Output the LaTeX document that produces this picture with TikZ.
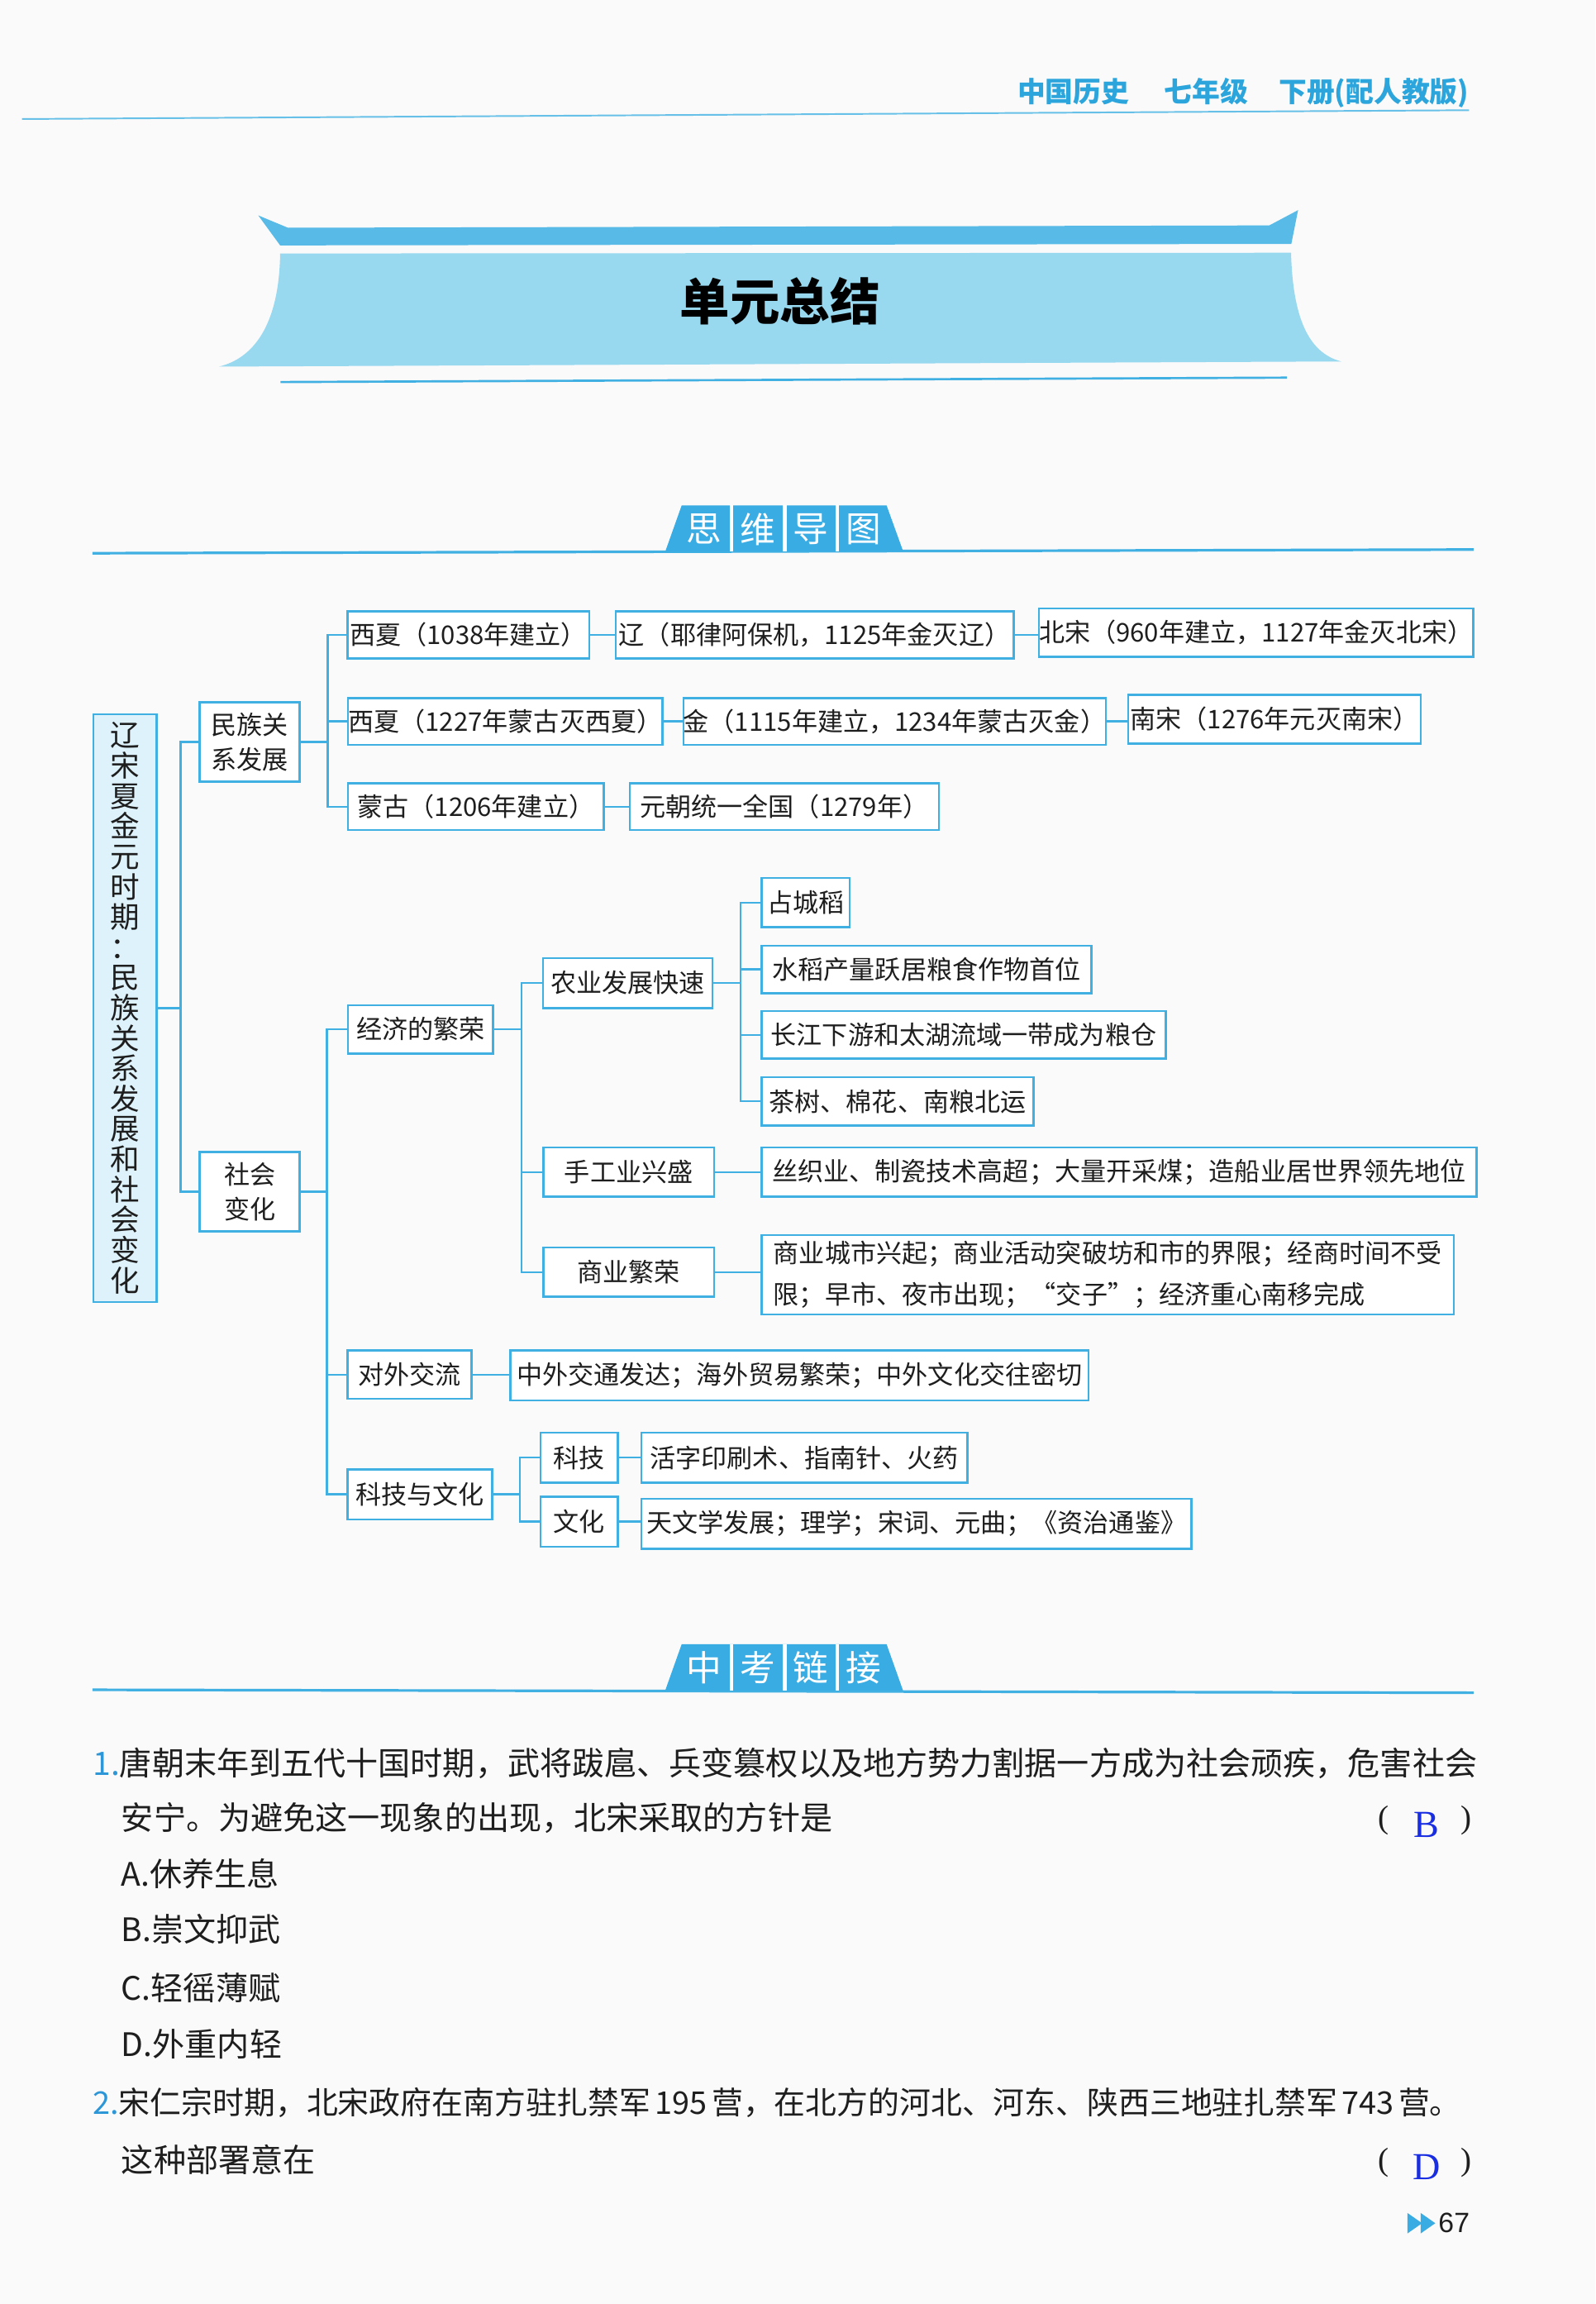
\documentclass[tikz,border=0pt]{standalone}
\usepackage{fontspec}
\setmainfont{Noto Sans CJK SC}
\newfontfamily\lat{Liberation Serif}
\newfontfamily\arl{Liberation Sans}
\definecolor{lineblue}{RGB}{64,176,226}
\definecolor{tabblue}{RGB}{58,172,228}
\definecolor{stripe}{RGB}{88,186,230}
\definecolor{roof}{RGB}{152,217,240}
\definecolor{headc}{RGB}{43,165,220}
\definecolor{rootfill}{RGB}{221,242,250}
\definecolor{ink}{RGB}{30,30,30}
\definecolor{ansblue}{RGB}{25,45,225}
\definecolor{numblue}{RGB}{45,150,215}
\definecolor{pagebg}{RGB}{250,250,250}
\tikzset{
  bx/.style={draw=lineblue, line width=1.4pt, fill=white, inner sep=0pt, text=ink,
    font=\fontsize{17.5}{21}\selectfont},
  cell/.style n args={4}{at={({(#1+#3)/2},{(#2+#4)/2})},
    minimum width={(#3)-(#1)}, minimum height={(#4)-(#2)}},
  conn/.style={draw=lineblue, line width=1.4pt},
  tabtxt/.style={text=white, font=\fontsize{24}{24}\selectfont, inner sep=0pt},
  qtext/.style={anchor=west, inner sep=0pt, text=ink, font=\fontsize{22}{26}\selectfont},
  paren/.style={inner sep=0pt, text=ink, font=\lat\fontsize{22}{22}\selectfont},
  ans/.style={inner sep=0pt, text=ansblue, font=\lat\fontsize{26}{26}\selectfont},
}
\begin{document}
\begin{tikzpicture}[x=1pt,y=-1pt]
\useasboundingbox (0,0) rectangle (1086,1568);
\fill[pagebg] (0,0) rectangle (1086,1568);

% page header
\node[anchor=east, inner sep=0pt, text=headc, font=\bfseries\fontsize{19}{19}\selectfont] (hdr) at (1000,63) {中国历史\hspace{24pt}七年级\hspace{21pt}下册(配人教版)};
\draw[lineblue!80, line width=1.1pt] (15,81) -- (1000,75);

% banner
\fill[stripe] (175.8,146.6) -- (196,155) -- (864,153.4) -- (883.6,143) -- (879,166) -- (190.7,167) -- cycle;
\fill[roof] (190.7,172.5) -- (878.8,172) .. controls (880,215) and (890,240) .. (913,246)
  -- (149,249.5) .. controls (172,244) and (190,222) .. (190.7,172.5) -- cycle;
\node[inner sep=0pt, text=black, font=\bfseries\fontsize{34}{34}\selectfont] (title) at (531,205) {单元总结};
\draw[lineblue, line width=1.5pt] (191,260) -- (876,257);

% tab 1
\draw[lineblue, line width=1.8pt] (63,376.5) -- (1003,374);
\fill[tabblue] (452.8,375.5) -- (464,344) -- (603.5,344) -- (614.7,375) -- cycle;
\foreach \xx in {497.8,534.3,569.8} \draw[white, line width=2.5pt] (\xx,344) -- (\xx,375);
\node[tabtxt] (t1a) at (479,360) {思};
\node[tabtxt] (t1b) at (516,360) {维};
\node[tabtxt] (t1c) at (552,360) {导};
\node[tabtxt] (t1d) at (588,360) {图};

% ---------------- mind map ----------------
\node[bx, fill=rootfill, cell={63.5}{486}{106.5}{886}, align=center,
  font=\fontsize{20}{20.6}\selectfont] (root)
  {辽\\宋\\夏\\金\\元\\时\\期\\：\\民\\族\\关\\系\\发\\展\\和\\社\\会\\变\\化};

\node[bx, cell={136}{478}{204}{532}, align=center, font=\fontsize{17.5}{24}\selectfont] (mz) {民族关\\系发展};
\node[bx, cell={136}{784}{204}{838}, align=center, font=\fontsize{17.5}{24}\selectfont] (sh) {社会\\变化};

\node[bx, cell={236.5}{416}{401}{448}] (a1) {西夏（1038年建立）};
\node[bx, cell={419}{416}{690}{448}] (a1b) {辽（耶律阿保机，1125年金灭辽）};
\node[bx, cell={708}{414}{1002}{447}] (a1c) {北宋（960年建立，1127年金灭北宋）};
\node[bx, cell={237}{475}{451}{507}] (a2) {西夏（1227年蒙古灭西夏）};
\node[bx, cell={468}{475}{750}{507}] (a2b) {金（1115年建立，1234年蒙古灭金）};
\node[bx, cell={768}{473}{967}{506}] (a2c) {南宋（1276年元灭南宋）};
\node[bx, cell={237}{533}{411}{565}] (a3) {蒙古（1206年建立）};
\node[bx, cell={428.6}{533}{639}{565}] (a3b) {元朝统一全国（1279年）};

\node[bx, cell={237}{684}{335.5}{717}] (b1) {经济的繁荣};
\node[bx, cell={236.5}{919}{321}{952}] (b2) {对外交流};
\node[bx, cell={236.5}{1000}{335}{1034}] (b3) {科技与文化};

\node[bx, cell={369.5}{652}{485}{686}] (c1) {农业发展快速};
\node[bx, cell={370}{781}{486}{814.5}] (c2) {手工业兴盛};
\node[bx, cell={370}{849}{486}{882.5}] (c3) {商业繁荣};

\node[bx, cell={518.5}{597.5}{578.5}{631}] (d1) {占城稻};
\node[bx, cell={518.5}{643.5}{743}{676}] (d2) {水稻产量跃居粮食作物首位};
\node[bx, cell={518.5}{688}{793.5}{720.5}] (d3) {长江下游和太湖流域一带成为粮仓};
\node[bx, cell={518.5}{733}{703.5}{766}] (d4) {茶树、棉花、南粮北运};

\node[bx, cell={518.5}{781}{1005}{814.5}] (e2) {丝织业、制瓷技术高超；大量开采煤；造船业居世界领先地位};
\node[bx, cell={518.5}{840.5}{989.5}{894.5}, align=left, font=\fontsize{17.5}{28}\selectfont] (e3)
  {商业城市兴起；商业活动突破坊和市的界限；经商时间不受\\限；早市、夜市出现；“交子”；经济重心南移完成};

\node[bx, cell={347.5}{919}{741}{953}] (f2) {中外交通发达；海外贸易繁荣；中外文化交往密切};

\node[bx, cell={368}{975}{420.5}{1009}] (g1) {科技};
\node[bx, cell={368}{1018.5}{420.5}{1052.5}] (g2) {文化};
\node[bx, cell={436.5}{975}{658.5}{1009}] (h1) {活字印刷术、指南针、火药};
\node[bx, cell={436.5}{1020}{811}{1054}] (h2) {天文学发展；理学；宋词、元曲；《资治通鉴》};

% junction points
\coordinate (j0) at (123,686);
\coordinate (j1) at (223,505);
\coordinate (j2) at (222.5,811);
\coordinate (j3) at (355,700.5);
\coordinate (j4) at (504,669);
\coordinate (j5) at (354,1017);

% connectors
\draw[conn] (root.east) -- (j0);
\draw[conn] (mz.west) -| (j0);
\draw[conn] (sh.west) -| (j0);

\draw[conn] (mz.east) -- (j1);
\draw[conn] (a1.west) -| (j1);
\draw[conn] (a3.west) -| (j1);
\draw[conn] (a2.west) -- (a2.west -| j1);
\draw[conn] (a1.east) -- (a1.east -| a1b.west);
\draw[conn] (a1b.east) -- (a1b.east -| a1c.west);
\draw[conn] (a2.east) -- (a2.east -| a2b.west);
\draw[conn] (a2b.east) -- (a2b.east -| a2c.west);
\draw[conn] (a3.east) -- (a3.east -| a3b.west);

\draw[conn] (sh.east) -- (j2);
\draw[conn] (b1.west) -| (j2);
\draw[conn] (b3.west) -| (j2);
\draw[conn] (b2.west) -- (b2.west -| j2);

\draw[conn] (b1.east) -- (j3);
\draw[conn] (c1.west) -| (j3);
\draw[conn] (c3.west) -| (j3);
\draw[conn] (c2.west) -- (c2.west -| j3);

\draw[conn] (c1.east) -- (j4);
\draw[conn] (d1.west) -| (j4);
\draw[conn] (d4.west) -| (j4);
\draw[conn] (d2.west) -- (d2.west -| j4);
\draw[conn] (d3.west) -- (d3.west -| j4);

\draw[conn] (c2.east) -- (c2.east -| e2.west);
\draw[conn] (c3.east) -- (c3.east -| e3.west);
\draw[conn] (b2.east) -- (b2.east -| f2.west);

\draw[conn] (b3.east) -- (j5);
\draw[conn] (g1.west) -| (j5);
\draw[conn] (g2.west) -| (j5);
\draw[conn] (g1.east) -- (g1.east -| h1.west);
\draw[conn] (g2.east) -- (g2.east -| h2.west);

% tab 2
\draw[lineblue, line width=1.8pt] (63,1150) -- (1003,1152);
\fill[tabblue] (452.8,1150.5) -- (464,1119) -- (603.5,1119) -- (614.7,1150.5) -- cycle;
\foreach \xx in {497.8,534.3,569.8} \draw[white, line width=2.5pt] (\xx,1119) -- (\xx,1150.5);
\node[tabtxt] (t2a) at (479,1135) {中};
\node[tabtxt] (t2b) at (516,1135) {考};
\node[tabtxt] (t2c) at (552,1135) {链};
\node[tabtxt] (t2d) at (588,1135) {接};

% questions
\node[qtext] (q1) at (63,1200) {{\color{numblue}1.}唐朝末年到五代十国时期，武将跋扈、兵变篡权以及地方势力割据一方成为社会顽疾，危害社会};
\node[qtext] (q1b) at (82.5,1237) {安宁。为避免这一现象的出现，北宋采取的方针是};
\node[paren] (o1) at (942,1239) {(};
\node[ans] (an1) at (971,1242) {B};
\node[paren] (c1p) at (998,1239) {)};
\node[qtext] (qa) at (82.5,1275) {A.休养生息};
\node[qtext] (qb) at (82.5,1313) {B.崇文抑武};
\node[qtext] (qc) at (82.5,1353) {C.轻徭薄赋};
\node[qtext] (qd) at (82.5,1391) {D.外重内轻};
\node[qtext, font=\fontsize{21.3}{26}\selectfont] (q2) at (63,1431) {{\color{numblue}2.}宋仁宗时期，北宋政府在南方驻扎禁军\hspace{3pt}195\hspace{3pt}营，在北方的河北、河东、陕西三地驻扎禁军\hspace{3pt}743\hspace{3pt}营。};
\node[qtext] (q2b) at (82.5,1470) {这种部署意在};
\node[paren] (o2) at (942,1472) {(};
\node[ans] (an2) at (971,1475) {D};
\node[paren] (c2p) at (998,1472) {)};

% page number
\fill[tabblue] (958,1506) -- (968,1513) -- (958,1520) -- cycle;
\fill[tabblue] (967,1506) -- (977,1513) -- (967,1520) -- cycle;
\node[anchor=west, inner sep=0pt, text=ink, font=\arl\fontsize{19}{19}\selectfont] (pg) at (979,1513) {67};
\end{tikzpicture}
\end{document}
